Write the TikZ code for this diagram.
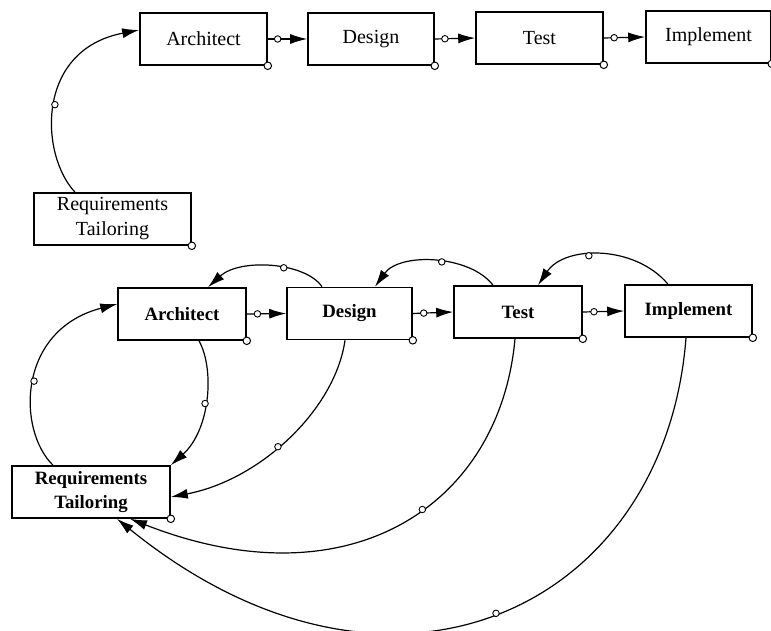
\documentclass[tikz,border=0pt]{standalone}
\usepackage{fontspec}
\setmainfont{Liberation Serif}
\usetikzlibrary{arrows.meta}
\begin{document}
\begin{tikzpicture}[x=1pt,y=-1pt,
  box/.style={draw, line width=1.6pt, minimum height=52pt, inner sep=0pt, align=center},
  topbox/.style={box, font=\fontsize{20}{25}\selectfont},
  botbox/.style={box, font=\bfseries\fontsize{18.8}{24}\selectfont},
  conn/.style={line width=1.2pt, -{Latex[length=17pt,width=10pt]}},
  dot/.style={circle, draw, fill=white, line width=0.9pt, minimum size=6.5pt, inner sep=0pt},
  cdot/.style={circle, draw, fill=white, line width=1pt, minimum size=7.5pt, inner sep=0pt}]
\useasboundingbox (0,0) rectangle (771,631);
% top row
\node[topbox, minimum width=127pt] (a1) at (203.5,39) {Architect};
\node[topbox, minimum width=126pt] (d1) at (371,39) {Design};
\node[topbox, minimum width=127pt] (t1) at (539.5,38) {Test};
\node[topbox, minimum width=125pt] (i1) at (708.5,37) {Implement};
\node[topbox, minimum width=157pt] (r1) at (112.5,219) {Requirements\\Tailoring};
% bottom row
\node[botbox, minimum width=128pt] (a2) at (182,314) {Architect};
\node[botbox, minimum width=125pt] (d2) at (349.5,313.5) {Design};
\node[botbox, minimum width=128pt] (t2) at (518,312) {Test};
\node[botbox, minimum width=127pt] (i2) at (688.5,311) {Implement};
\node[botbox, minimum width=158pt] (r2) at (91,492) {Requirements\\Tailoring};
% top connectors
\draw[conn] (a1.east) -- (d1.west) node[dot, pos=0.25] (c1) {};
\draw[conn] (d1.east) -- (t1.west) node[dot, pos=0.25] (c2) {};
\draw[conn] (t1.east) -- (i1.west) node[dot, pos=0.25] (c3) {};
\draw[conn] ([xshift=-37.5pt]r1.north) .. controls (40,155) and (35,50) .. ([yshift=9pt]a1.west) node[dot, pos=0.5] (c4) {};
% bottom straight connectors
\draw[conn] (a2.east) -- (d2.west) node[dot, pos=0.27] (c5) {};
\draw[conn] (d2.east) -- (t2.west) node[dot, pos=0.27] (c6) {};
\draw[conn] (t2.east) -- (i2.west) node[dot, pos=0.27] (c7) {};
% bottom arcs above
\draw[conn] ([xshift=-27.5pt]d2.north) .. controls (305,262) and (240,258) .. ([xshift=26pt]a2.north) node[dot, pos=0.4] (c8) {};
\draw[conn] ([xshift=-25pt]t2.north) .. controls (470,255) and (400,252) .. ([xshift=25.5pt]d2.north) node[dot, pos=0.45] (c9) {};
\draw[conn] ([xshift=-20.5pt]i2.north) .. controls (635,245) and (565,245) .. ([xshift=20pt]t2.north) node[dot, pos=0.58] (c10) {};
% feedback to requirements
\draw[conn] ([xshift=-38pt]r2.north) .. controls (17,430) and (17,330) .. ([yshift=10pt]a2.west) node[dot, pos=0.5] (c11) {};
\draw[conn] ([xshift=17pt]a2.south) .. controls (215,370) and (210,430) .. (r2.north east) node[dot, pos=0.52] (c12) {};
\draw[conn] ([xshift=-4.5pt]d2.south) .. controls (335,410) and (260,480) .. ([yshift=-5pt]r2.east) node[dot, pos=0.55] (c13) {};
\draw[conn] ([xshift=-3pt]t2.south) .. controls (500,505) and (350,605) .. ([xshift=39pt]r2.south) node[dot, pos=0.44] (c14) {};
\draw[conn] ([xshift=-2.5pt]i2.south) .. controls (665,610) and (390,740) .. ([xshift=26pt]r2.south) node[dot, pos=0.5] (c15) {};
% corner markers
\foreach \n in {a1,d1,t1,i1,r1,a2,d2,t2,i2,r2}
  \node[cdot] (\n-c) at (\n.south east) {};
\end{tikzpicture}
\end{document}
